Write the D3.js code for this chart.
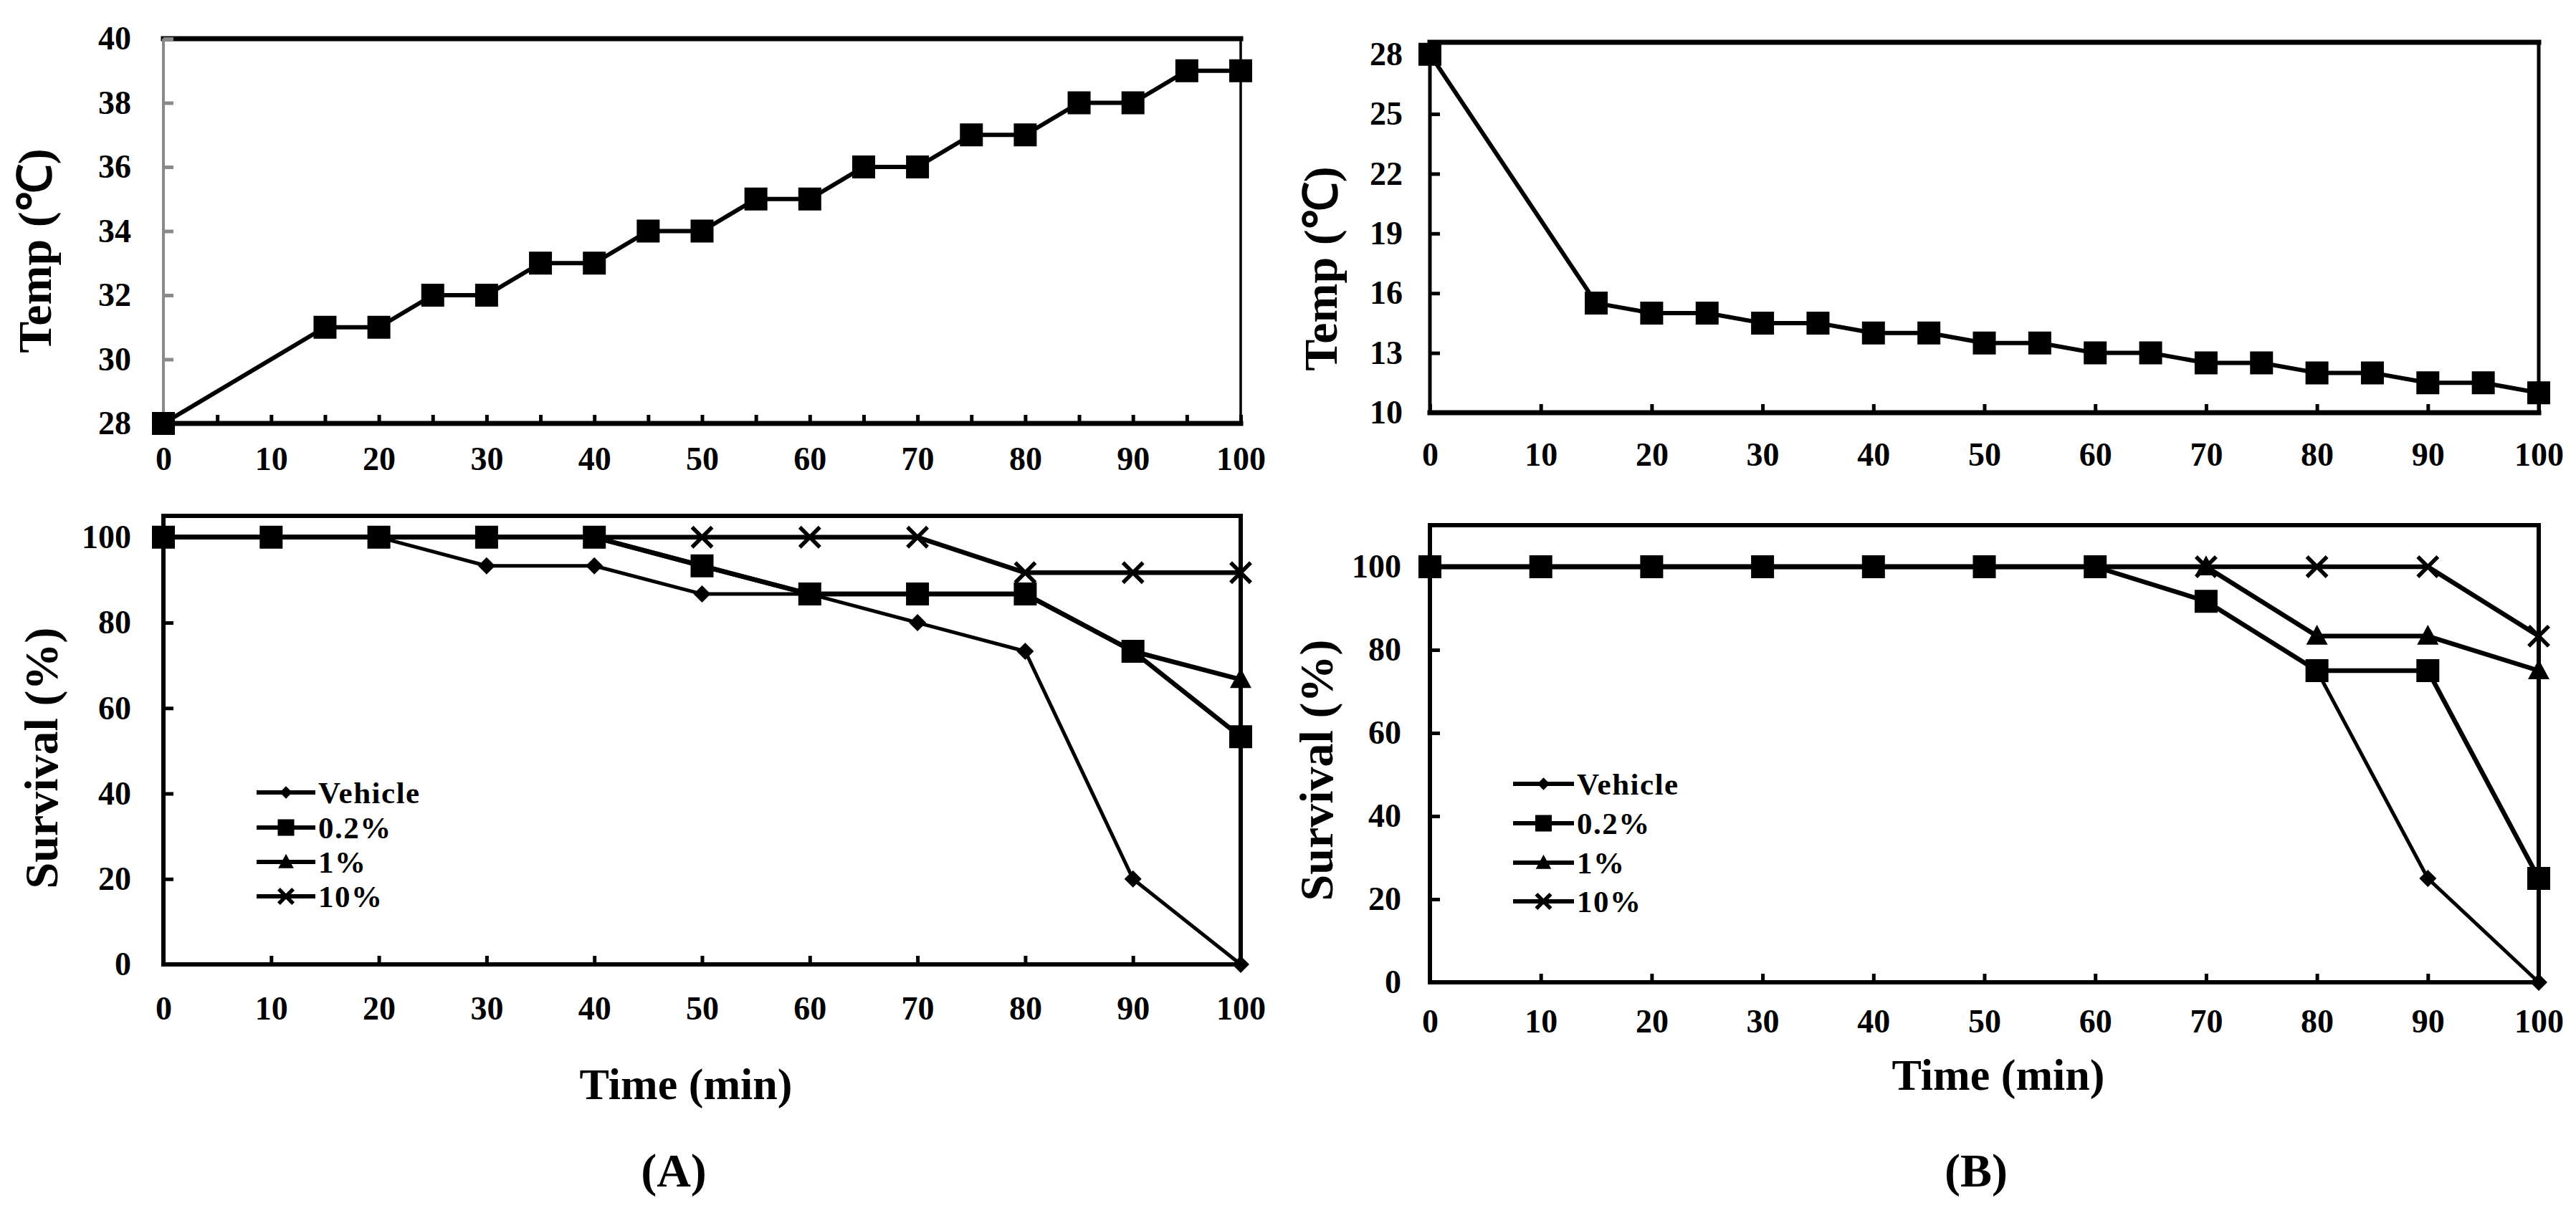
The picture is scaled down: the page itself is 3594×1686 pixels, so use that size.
<!DOCTYPE html>
<html>
<head>
<meta charset="utf-8">
<script src="https://cdn.jsdelivr.net/npm/d3@7"></script>
<style>
  html, body { margin: 0; padding: 0; background: #fff; }
  svg { display: block; }
  text { font-family: "Liberation Serif", "Times New Roman", serif; font-weight: bold; fill: #000; }
</style>
</head>
<body>
<svg id="chart" width="3594" height="1686"></svg>
<script>
// ---------------- data ----------------
const tempTimes = [0, 15, 20, 25, 30, 35, 40, 45, 50, 55, 60, 65, 70, 75, 80, 85, 90, 95, 100];
const tempA = [28, 31, 31, 32, 32, 33, 33, 34, 34, 35, 35, 36, 36, 37, 37, 38, 38, 39, 39];
const tempB = [28, 15.5, 15, 15, 14.5, 14.5, 14, 14, 13.5, 13.5, 13, 13, 12.5, 12.5, 12, 12, 11.5, 11.5, 11];

const survTimes = [0, 10, 20, 30, 40, 50, 60, 70, 80, 90, 100];
const seriesNames = ["Vehicle", "0.2%", "1%", "10%"];
const seriesMarkers = ["diamond", "square", "triangle", "x"];

const survA_vehicle = [100, 100, 100, 93.3, 93.3, 86.7, 86.7, 80, 73.3, 20, 0];
const survA_02 = [100, 100, 100, 100, 100, 93.3, 86.7, 86.7, 86.7, 73.3, 53.3];
const survA_1 = [100, 100, 100, 100, 100, 93.3, 86.7, 86.7, 86.7, 73.3, 66.7];
const survA_10 = [100, 100, 100, 100, 100, 100, 100, 100, 91.7, 91.7, 91.7];

const survB_vehicle = [100, 100, 100, 100, 100, 100, 100, 91.7, 75, 25, 0];
const survB_02 = [100, 100, 100, 100, 100, 100, 100, 91.7, 75, 75, 25];
const survB_1 = [100, 100, 100, 100, 100, 100, 100, 100, 83.3, 83.3, 75];
const survB_10 = [100, 100, 100, 100, 100, 100, 100, 100, 100, 100, 83.3];

const xTicksMinor = [0, 5, 10, 15, 20, 25, 30, 35, 40, 45, 50, 55, 60, 65, 70, 75, 80, 85, 90, 95, 100];
const xTicks = [0, 10, 20, 30, 40, 50, 60, 70, 80, 90, 100];
const yTicksTempA = [28, 30, 32, 34, 36, 38, 40];
const yTicksTempB = [10, 13, 16, 19, 22, 25, 28];
const yTicksSurv = [0, 20, 40, 60, 80, 100];

const tempLabel = "Temp (\u2103)";
const survLabel = "Survival (%)";
const timeLabel = "Time (min)";
const panelLabels = ["(A)", "(B)"];

// ---------------- drawing ----------------
const svg = d3.select("#chart");

function drawMarker(g, type, cx, cy, k) {
  const s = k || 1;
  if (type === "x") {
    const r = 14 * s;
    g.append("path")
      .attr("d", `M${cx - r},${cy - r}L${cx + r},${cy + r}M${cx - r},${cy + r}L${cx + r},${cy - r}`)
      .attr("stroke", "#000").attr("stroke-width", 5.5).attr("fill", "none");
    return;
  }
  let d = "";
  if (type === "square") {
    const r = 16 * s;
    d = `M${cx - r},${cy - r}H${cx + r}V${cy + r}H${cx - r}Z`;
  } else if (type === "diamond") {
    const r = 12 * s;
    d = `M${cx},${cy - r}L${cx + r},${cy}L${cx},${cy + r}L${cx - r},${cy}Z`;
  } else if (type === "triangle") {
    const r = 15 * s;
    d = `M${cx},${cy - r * 1.05}L${cx + r},${cy + r * 0.8}L${cx - r},${cy + r * 0.8}Z`;
  }
  g.append("path").attr("d", d).attr("fill", "#000");
}

function frame(g, x, y, lines) {
  const [x0, x1] = x.range();
  const [y0, y1] = y.range(); // y0 bottom, y1 top
  const def = { w: 6, c: "#000" };
  const L = Object.assign({ top: def, bottom: def, left: def, right: def }, lines || {});
  g.append("line").attr("x1", x0).attr("x2", x1).attr("y1", y1).attr("y2", y1)
    .attr("stroke", L.top.c).attr("stroke-width", L.top.w).attr("stroke-linecap", "square");
  g.append("line").attr("x1", x1).attr("x2", x1).attr("y1", y1).attr("y2", y0)
    .attr("stroke", L.right.c).attr("stroke-width", L.right.w).attr("stroke-linecap", "square");
  g.append("line").attr("x1", x0).attr("x2", x1).attr("y1", y0).attr("y2", y0)
    .attr("stroke", L.bottom.c).attr("stroke-width", L.bottom.w).attr("stroke-linecap", "square");
  g.append("line").attr("x1", x0).attr("x2", x0).attr("y1", y1).attr("y2", y0)
    .attr("stroke", L.left.c).attr("stroke-width", L.left.w);
}

function axes(g, x, y, opt) {
  const xAxis = d3.axisBottom(x)
    .tickValues(opt.xTickValues)
    .tickFormat(d => (xTicks.includes(d) ? String(d) : ""))
    .tickSizeInner(-opt.xTickLen).tickSizeOuter(0).tickPadding(opt.xPad);
  const gx = g.append("g").attr("transform", `translate(0,${y.range()[0]})`).call(xAxis);
  gx.select(".domain").remove();
  gx.selectAll(".tick line").attr("stroke", opt.xTickColor || "#000").attr("stroke-width", 5);
  gx.selectAll(".tick text").attr("font-size", 46).attr("font-family", "Liberation Serif").attr("font-weight", "bold");

  const yAxis = d3.axisLeft(y)
    .tickValues(opt.yTickValues)
    .tickFormat(d3.format("d"))
    .tickSizeInner(-14).tickSizeOuter(0).tickPadding(opt.yPad);
  const gy = g.append("g").attr("transform", `translate(${x.range()[0]},0)`).call(yAxis);
  gy.select(".domain").remove();
  gy.selectAll(".tick line").attr("stroke", opt.yTickColor || "#000").attr("stroke-width", 5);
  gy.selectAll(".tick text").attr("font-size", 46).attr("font-family", "Liberation Serif").attr("font-weight", "bold");
}

function yTitle(text, cx, cy) {
  svg.append("text").attr("transform", `translate(${cx},${cy}) rotate(-90)`)
    .attr("text-anchor", "middle").attr("dominant-baseline", "central")
    .attr("font-size", 66).text(text);
}

function drawSeries(g, x, y, times, values, marker, width) {
  const line = d3.line().x((d, i) => x(times[i])).y(d => y(d));
  g.append("path").datum(values).attr("d", line)
    .attr("fill", "none").attr("stroke", "#000").attr("stroke-width", width || 6.5)
    .attr("stroke-linejoin", "round");
  values.forEach((v, i) => drawMarker(g, marker, x(times[i]), y(v), 1));
}

function legend(g, x0, x1, ys, fontSize) {
  seriesNames.forEach((name, i) => {
    const yy = ys[i];
    g.append("line").attr("x1", x0).attr("x2", x1).attr("y1", yy).attr("y2", yy)
      .attr("stroke", "#000").attr("stroke-width", 6);
    drawMarker(g, seriesMarkers[i], (x0 + x1) / 2, yy, 0.72);
    g.append("text").attr("x", x1 + 4).attr("y", yy).attr("dominant-baseline", "central")
      .attr("font-size", fontSize).attr("letter-spacing", 1.5).text(name);
  });
}

// ---- Panel A top ----
{
  const g = svg.append("g");
  const x = d3.scaleLinear().domain([0, 100]).range([228, 1731]);
  const y = d3.scaleLinear().domain([28, 40]).range([591, 54]);
  frame(g, x, y, { top: { w: 7, c: "#000" }, bottom: { w: 7, c: "#000" }, left: { w: 4, c: "#8a8a8a" }, right: { w: 3.5, c: "#000" } });
  axes(g, x, y, { xTickValues: xTicksMinor, yTickValues: yTicksTempA, xTickLen: 12, xPad: 32, yPad: 45, yTickColor: "#8a8a8a" });
  drawSeries(g, x, y, tempTimes, tempA, "square", 6);
  yTitle(tempLabel, 48, 350);
}

// ---- Panel A bottom ----
{
  const g = svg.append("g");
  const x = d3.scaleLinear().domain([0, 100]).range([228, 1731]);
  const y = d3.scaleLinear().domain([0, 105]).range([1346, 720]);
  frame(g, x, y);
  axes(g, x, y, { xTickValues: xTicks, yTickValues: yTicksSurv, xTickLen: 12, xPad: 44, yPad: 45 });
  const vals = [survA_vehicle, survA_02, survA_1, survA_10];
  vals.forEach((v, i) => drawSeries(g, x, y, survTimes, v, seriesMarkers[i], i === 0 ? 5 : 6.5));
  legend(g, 358, 440, [1106, 1155, 1203, 1251], 43);
  yTitle(survLabel, 57, 1058);
  svg.append("text").attr("x", 957).attr("y", 1513).attr("text-anchor", "middle")
    .attr("dominant-baseline", "central").attr("font-size", 62).text(timeLabel);
  svg.append("text").attr("x", 940).attr("y", 1633).attr("text-anchor", "middle")
    .attr("dominant-baseline", "central").attr("font-size", 66).text(panelLabels[0]);
}

// ---- Panel B top ----
{
  const g = svg.append("g");
  const x = d3.scaleLinear().domain([0, 100]).range([1995, 3542]);
  const y = d3.scaleLinear().domain([10, 28.6]).range([576, 59]);
  frame(g, x, y, { top: { w: 7, c: "#000" }, bottom: { w: 7, c: "#000" }, left: { w: 5, c: "#000" }, right: { w: 5, c: "#000" } });
  axes(g, x, y, { xTickValues: xTicks, yTickValues: yTicksTempB, xTickLen: 12, xPad: 41, yPad: 38 });
  drawSeries(g, x, y, tempTimes, tempB, "square", 6);
  yTitle(tempLabel, 1842, 375);
}

// ---- Panel B bottom ----
{
  const g = svg.append("g");
  const x = d3.scaleLinear().domain([0, 100]).range([1995, 3542]);
  const y = d3.scaleLinear().domain([0, 110]).range([1371, 733]);
  frame(g, x, y);
  axes(g, x, y, { xTickValues: xTicks, yTickValues: yTicksSurv, xTickLen: 12, xPad: 37, yPad: 40 });
  const vals = [survB_vehicle, survB_02, survB_1, survB_10];
  vals.forEach((v, i) => drawSeries(g, x, y, survTimes, v, seriesMarkers[i], i === 0 ? 5 : 6.5));
  legend(g, 2111, 2196, [1094, 1149, 1204, 1258], 43);
  yTitle(survLabel, 1836, 1075);
  svg.append("text").attr("x", 2788).attr("y", 1500).attr("text-anchor", "middle")
    .attr("dominant-baseline", "central").attr("font-size", 62).text(timeLabel);
  svg.append("text").attr("x", 2757).attr("y", 1633).attr("text-anchor", "middle")
    .attr("dominant-baseline", "central").attr("font-size", 66).text(panelLabels[1]);
}
</script>
</body>
</html>
